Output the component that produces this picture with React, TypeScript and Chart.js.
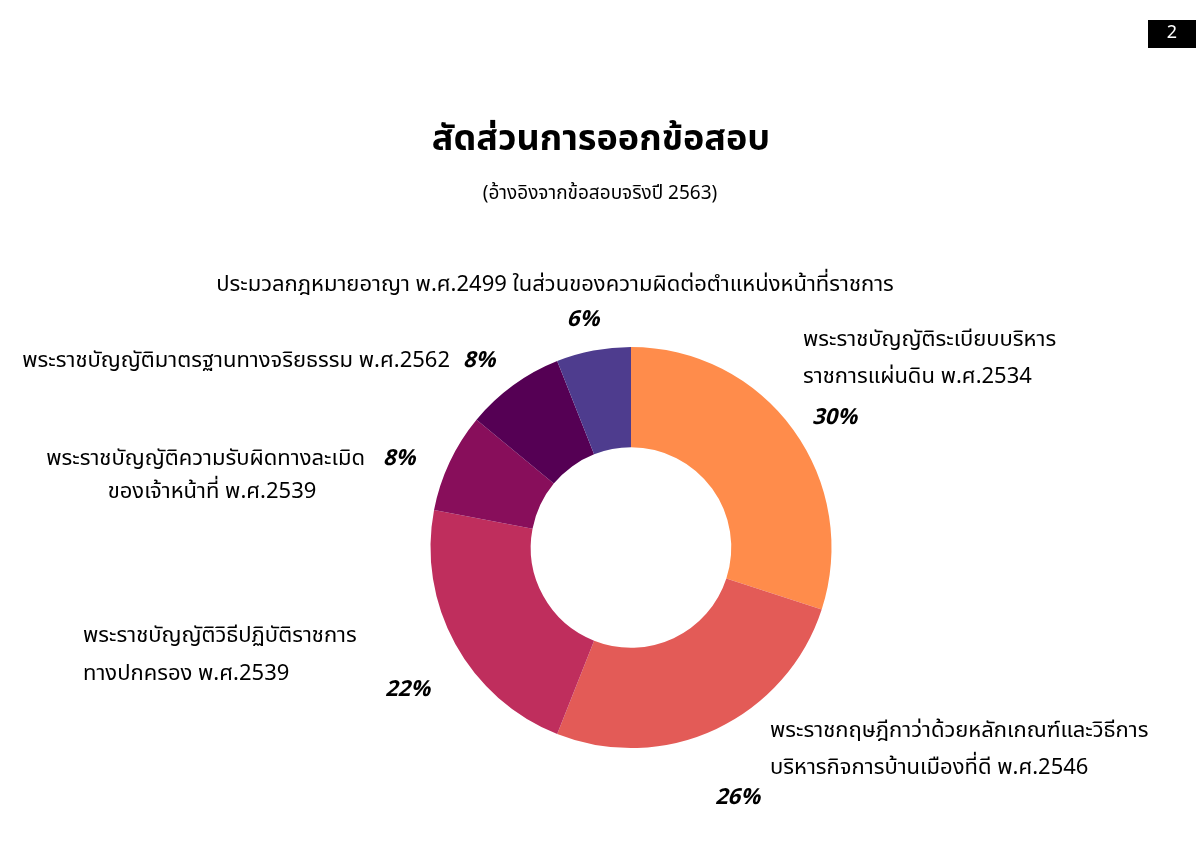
import React, { useEffect, useRef } from "react";
import { Chart, registerables } from "chart.js";

Chart.register(...registerables);

const categories = [
  "พระราชบัญญัติระเบียบบริหารราชการแผ่นดิน พ.ศ.2534",
  "พระราชกฤษฎีกาว่าด้วยหลักเกณฑ์และวิธีการบริหารกิจการบ้านเมืองที่ดี พ.ศ.2546",
  "พระราชบัญญัติวิธีปฏิบัติราชการทางปกครอง พ.ศ.2539",
  "พระราชบัญญัติความรับผิดทางละเมิดของเจ้าหน้าที่ พ.ศ.2539",
  "พระราชบัญญัติมาตรฐานทางจริยธรรม พ.ศ.2562",
  "ประมวลกฎหมายอาญา พ.ศ.2499 ในส่วนของความผิดต่อตำแหน่งหน้าที่ราชการ",
];
const shares = [30, 26, 22, 8, 8, 6];
const sliceColors = ["#FF8C4B", "#E35B57", "#BF2E5D", "#880E5B", "#550054", "#4E3C8E"];

const titleText = "สัดส่วนการออกข้อสอบ";
const subtitleText = "(อ้างอิงจากข้อสอบจริงปี 2563)";
const pageNumber = "2";

const labelLines: string[][] = [
  ["พระราชบัญญัติระเบียบบริหาร", "ราชการแผ่นดิน พ.ศ.2534"],
  ["พระราชกฤษฎีกาว่าด้วยหลักเกณฑ์และวิธีการ", "บริหารกิจการบ้านเมืองที่ดี พ.ศ.2546"],
  ["พระราชบัญญัติวิธีปฏิบัติราชการ", "ทางปกครอง พ.ศ.2539"],
  ["พระราชบัญญัติความรับผิดทางละเมิด", "ของเจ้าหน้าที่ พ.ศ.2539"],
  ["พระราชบัญญัติมาตรฐานทางจริยธรรม พ.ศ.2562"],
  ["ประมวลกฎหมายอาญา พ.ศ.2499 ในส่วนของความผิดต่อตำแหน่งหน้าที่ราชการ"],
];

const FONT = "'Noto Sans Thai', 'Noto Sans', 'DejaVu Sans', sans-serif";

type LabelPos = { lines: { x: number; y: number; align: CanvasTextAlign }[]; pct: { x: number; y: number; align: CanvasTextAlign } };
const labelPositions: LabelPos[] = [
  { lines: [{ x: 803, y: 342, align: "left" }, { x: 803, y: 379, align: "left" }], pct: { x: 812, y: 420, align: "left" } },
  { lines: [{ x: 770, y: 733, align: "left" }, { x: 770, y: 770, align: "left" }], pct: { x: 715, y: 800, align: "left" } },
  { lines: [{ x: 83, y: 638, align: "left" }, { x: 83, y: 676, align: "left" }], pct: { x: 385, y: 692, align: "left" } },
  { lines: [{ x: 365, y: 461, align: "right" }, { x: 212, y: 494, align: "center" }], pct: { x: 383, y: 461, align: "left" } },
  { lines: [{ x: 450, y: 363, align: "right" }], pct: { x: 463, y: 363, align: "left" } },
  { lines: [{ x: 555, y: 287, align: "center" }], pct: { x: 583, y: 322, align: "center" } },
];

const overlayPlugin = {
  id: "overlay",
  afterDraw(chart: any) {
    const ctx = chart.ctx as CanvasRenderingContext2D;
    ctx.save();
    ctx.textBaseline = "middle";
    ctx.fillStyle = "#000";
    ctx.textAlign = "center";
    ctx.font = `bold 36px ${FONT}`;
    ctx.fillText(titleText, 601, 143);
    ctx.font = `19px ${FONT}`;
    ctx.fillText(subtitleText, 600, 195);
    ctx.fillRect(1148, 20, 48, 28);
    ctx.fillStyle = "#fff";
    ctx.font = `18px ${FONT}`;
    ctx.fillText(pageNumber, 1172, 34);
    ctx.fillStyle = "#000";
    labelPositions.forEach((p, i) => {
      ctx.font = `22px ${FONT}`;
      labelLines[i].forEach((t, j) => {
        const l = p.lines[j];
        ctx.textAlign = l.align;
        ctx.fillText(t, l.x, l.y);
      });
      ctx.font = `italic bold 22px ${FONT}`;
      ctx.textAlign = p.pct.align;
      ctx.fillText(`${shares[i]}%`, p.pct.x, p.pct.y);
    });
    ctx.restore();
  },
};

export default function App() {
  const ref = useRef<HTMLCanvasElement | null>(null);
  useEffect(() => {
    if (!ref.current) return;
    const chart = new Chart(ref.current, {
      type: "doughnut",
      data: {
        labels: categories,
        datasets: [
          {
            data: shares,
            backgroundColor: sliceColors,
            borderWidth: 0,
          },
        ],
      },
      options: {
        animation: false,
        responsive: false,
        cutout: "50%",
        layout: { padding: { top: 347, bottom: 101, left: 430, right: 368 } },
        plugins: {
          legend: { display: false },
          tooltip: { enabled: false },
          title: { display: false },
        },
      },
      plugins: [overlayPlugin],
    });
    return () => chart.destroy();
  }, []);
  return (
    <div style={{ position: "fixed", left: 0, top: 0, width: 1200, height: 849, background: "#fff" }}>
      <canvas ref={ref} width={1200} height={849} style={{ width: 1200, height: 849 }} />
    </div>
  );
}
